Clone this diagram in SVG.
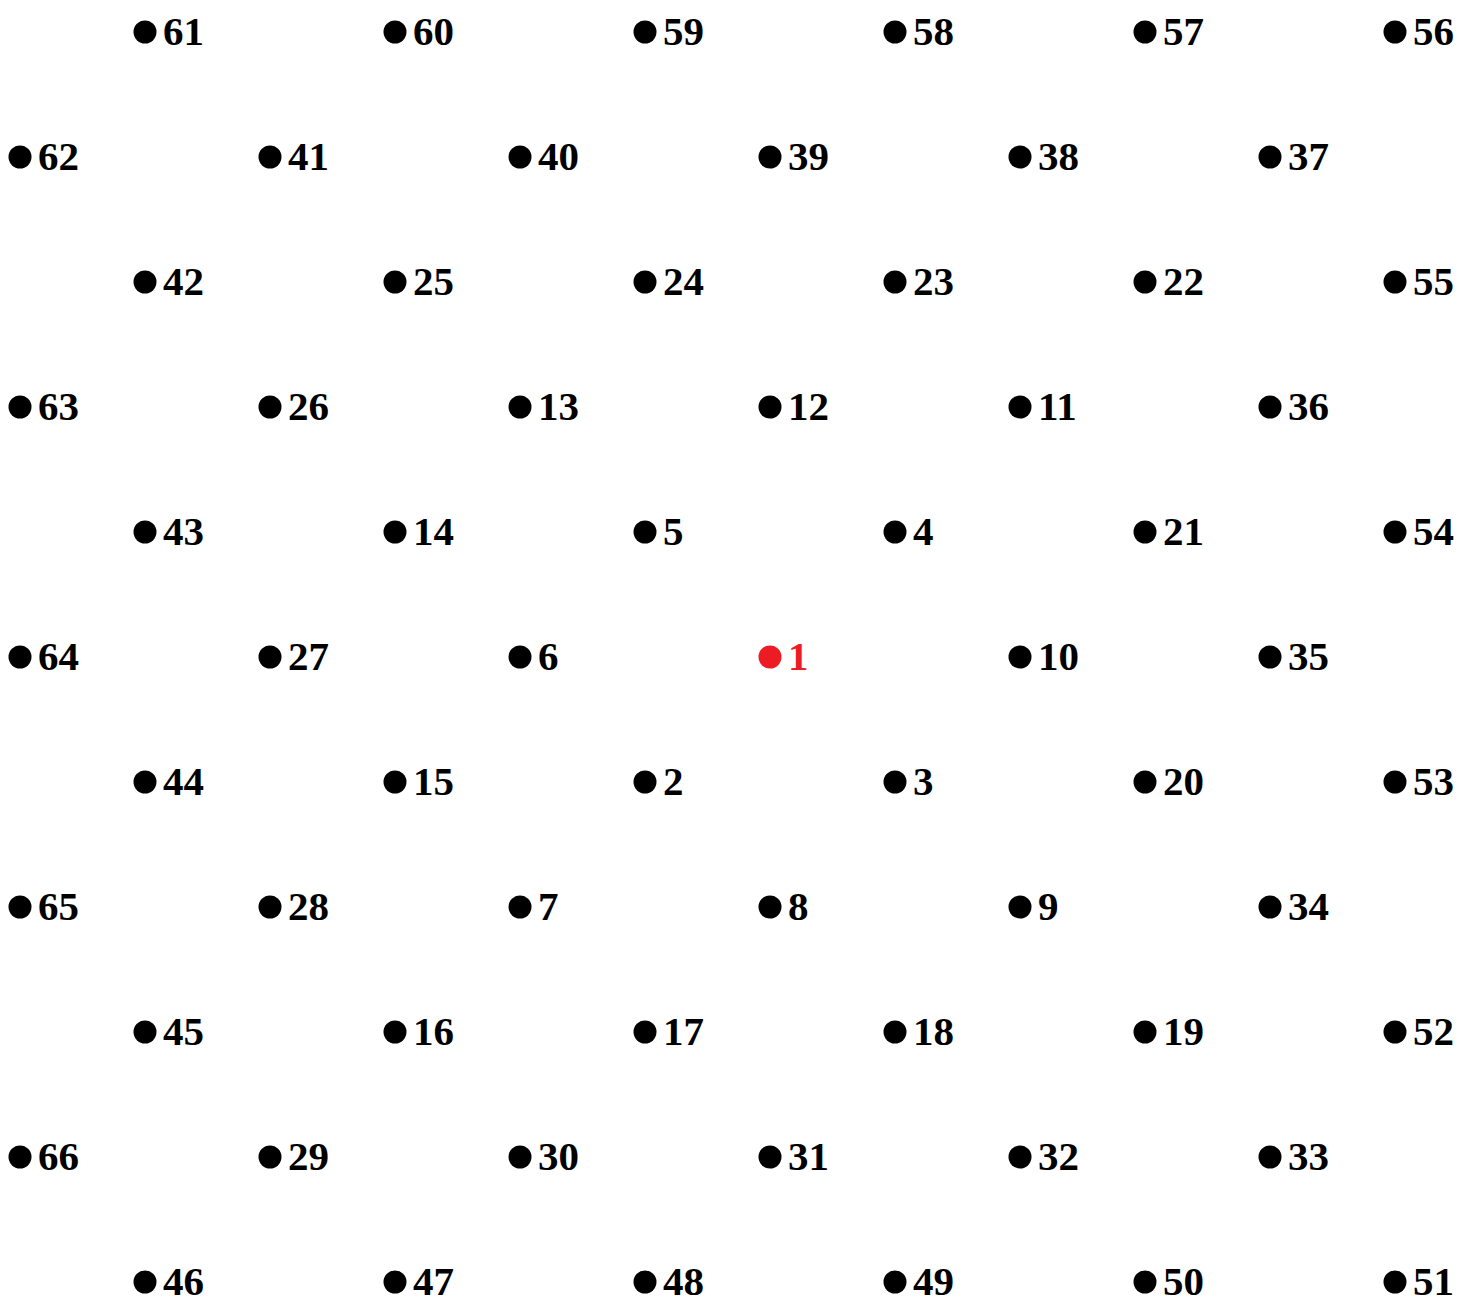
<svg xmlns="http://www.w3.org/2000/svg" width="1477" height="1304" viewBox="0 0 1477 1304">
<style>
.d{fill:#000}
.t{font-family:"Liberation Serif","DejaVu Serif",serif;font-weight:bold;font-size:41px;fill:#000;font-variant-numeric:oldstyle-nums}
.r .d,.r .t{fill:#ed1c24}
</style>
<rect width="1477" height="1304" fill="#fff"/>
<g id="connectors"></g>
<g id="n61"><circle class="d" cx="145" cy="32" r="11.5"/><text class="t" x="163" y="45">61</text></g>
<g id="n60"><circle class="d" cx="395" cy="32" r="11.5"/><text class="t" x="413" y="45">60</text></g>
<g id="n59"><circle class="d" cx="645" cy="32" r="11.5"/><text class="t" x="663" y="45">59</text></g>
<g id="n58"><circle class="d" cx="895" cy="32" r="11.5"/><text class="t" x="913" y="45">58</text></g>
<g id="n57"><circle class="d" cx="1145" cy="32" r="11.5"/><text class="t" x="1163" y="45">57</text></g>
<g id="n56"><circle class="d" cx="1395" cy="32" r="11.5"/><text class="t" x="1413" y="45">56</text></g>
<g id="n62"><circle class="d" cx="20" cy="157" r="11.5"/><text class="t" x="38" y="170">62</text></g>
<g id="n41"><circle class="d" cx="270" cy="157" r="11.5"/><text class="t" x="288" y="170">41</text></g>
<g id="n40"><circle class="d" cx="520" cy="157" r="11.5"/><text class="t" x="538" y="170">40</text></g>
<g id="n39"><circle class="d" cx="770" cy="157" r="11.5"/><text class="t" x="788" y="170">39</text></g>
<g id="n38"><circle class="d" cx="1020" cy="157" r="11.5"/><text class="t" x="1038" y="170">38</text></g>
<g id="n37"><circle class="d" cx="1270" cy="157" r="11.5"/><text class="t" x="1288" y="170">37</text></g>
<g id="n42"><circle class="d" cx="145" cy="282" r="11.5"/><text class="t" x="163" y="295">42</text></g>
<g id="n25"><circle class="d" cx="395" cy="282" r="11.5"/><text class="t" x="413" y="295">25</text></g>
<g id="n24"><circle class="d" cx="645" cy="282" r="11.5"/><text class="t" x="663" y="295">24</text></g>
<g id="n23"><circle class="d" cx="895" cy="282" r="11.5"/><text class="t" x="913" y="295">23</text></g>
<g id="n22"><circle class="d" cx="1145" cy="282" r="11.5"/><text class="t" x="1163" y="295">22</text></g>
<g id="n55"><circle class="d" cx="1395" cy="282" r="11.5"/><text class="t" x="1413" y="295">55</text></g>
<g id="n63"><circle class="d" cx="20" cy="407" r="11.5"/><text class="t" x="38" y="420">63</text></g>
<g id="n26"><circle class="d" cx="270" cy="407" r="11.5"/><text class="t" x="288" y="420">26</text></g>
<g id="n13"><circle class="d" cx="520" cy="407" r="11.5"/><text class="t" x="538" y="420">13</text></g>
<g id="n12"><circle class="d" cx="770" cy="407" r="11.5"/><text class="t" x="788" y="420">12</text></g>
<g id="n11"><circle class="d" cx="1020" cy="407" r="11.5"/><text class="t" x="1038" y="420">11</text></g>
<g id="n36"><circle class="d" cx="1270" cy="407" r="11.5"/><text class="t" x="1288" y="420">36</text></g>
<g id="n43"><circle class="d" cx="145" cy="532" r="11.5"/><text class="t" x="163" y="545">43</text></g>
<g id="n14"><circle class="d" cx="395" cy="532" r="11.5"/><text class="t" x="413" y="545">14</text></g>
<g id="n5"><circle class="d" cx="645" cy="532" r="11.5"/><text class="t" x="663" y="545">5</text></g>
<g id="n4"><circle class="d" cx="895" cy="532" r="11.5"/><text class="t" x="913" y="545">4</text></g>
<g id="n21"><circle class="d" cx="1145" cy="532" r="11.5"/><text class="t" x="1163" y="545">21</text></g>
<g id="n54"><circle class="d" cx="1395" cy="532" r="11.5"/><text class="t" x="1413" y="545">54</text></g>
<g id="n64"><circle class="d" cx="20" cy="657" r="11.5"/><text class="t" x="38" y="670">64</text></g>
<g id="n27"><circle class="d" cx="270" cy="657" r="11.5"/><text class="t" x="288" y="670">27</text></g>
<g id="n6"><circle class="d" cx="520" cy="657" r="11.5"/><text class="t" x="538" y="670">6</text></g>
<g id="n1" class="r"><circle class="d" cx="770" cy="657" r="11.5"/><text class="t" x="788" y="670">1</text></g>
<g id="n10"><circle class="d" cx="1020" cy="657" r="11.5"/><text class="t" x="1038" y="670">10</text></g>
<g id="n35"><circle class="d" cx="1270" cy="657" r="11.5"/><text class="t" x="1288" y="670">35</text></g>
<g id="n44"><circle class="d" cx="145" cy="782" r="11.5"/><text class="t" x="163" y="795">44</text></g>
<g id="n15"><circle class="d" cx="395" cy="782" r="11.5"/><text class="t" x="413" y="795">15</text></g>
<g id="n2"><circle class="d" cx="645" cy="782" r="11.5"/><text class="t" x="663" y="795">2</text></g>
<g id="n3"><circle class="d" cx="895" cy="782" r="11.5"/><text class="t" x="913" y="795">3</text></g>
<g id="n20"><circle class="d" cx="1145" cy="782" r="11.5"/><text class="t" x="1163" y="795">20</text></g>
<g id="n53"><circle class="d" cx="1395" cy="782" r="11.5"/><text class="t" x="1413" y="795">53</text></g>
<g id="n65"><circle class="d" cx="20" cy="907" r="11.5"/><text class="t" x="38" y="920">65</text></g>
<g id="n28"><circle class="d" cx="270" cy="907" r="11.5"/><text class="t" x="288" y="920">28</text></g>
<g id="n7"><circle class="d" cx="520" cy="907" r="11.5"/><text class="t" x="538" y="920">7</text></g>
<g id="n8"><circle class="d" cx="770" cy="907" r="11.5"/><text class="t" x="788" y="920">8</text></g>
<g id="n9"><circle class="d" cx="1020" cy="907" r="11.5"/><text class="t" x="1038" y="920">9</text></g>
<g id="n34"><circle class="d" cx="1270" cy="907" r="11.5"/><text class="t" x="1288" y="920">34</text></g>
<g id="n45"><circle class="d" cx="145" cy="1032" r="11.5"/><text class="t" x="163" y="1045">45</text></g>
<g id="n16"><circle class="d" cx="395" cy="1032" r="11.5"/><text class="t" x="413" y="1045">16</text></g>
<g id="n17"><circle class="d" cx="645" cy="1032" r="11.5"/><text class="t" x="663" y="1045">17</text></g>
<g id="n18"><circle class="d" cx="895" cy="1032" r="11.5"/><text class="t" x="913" y="1045">18</text></g>
<g id="n19"><circle class="d" cx="1145" cy="1032" r="11.5"/><text class="t" x="1163" y="1045">19</text></g>
<g id="n52"><circle class="d" cx="1395" cy="1032" r="11.5"/><text class="t" x="1413" y="1045">52</text></g>
<g id="n66"><circle class="d" cx="20" cy="1157" r="11.5"/><text class="t" x="38" y="1170">66</text></g>
<g id="n29"><circle class="d" cx="270" cy="1157" r="11.5"/><text class="t" x="288" y="1170">29</text></g>
<g id="n30"><circle class="d" cx="520" cy="1157" r="11.5"/><text class="t" x="538" y="1170">30</text></g>
<g id="n31"><circle class="d" cx="770" cy="1157" r="11.5"/><text class="t" x="788" y="1170">31</text></g>
<g id="n32"><circle class="d" cx="1020" cy="1157" r="11.5"/><text class="t" x="1038" y="1170">32</text></g>
<g id="n33"><circle class="d" cx="1270" cy="1157" r="11.5"/><text class="t" x="1288" y="1170">33</text></g>
<g id="n46"><circle class="d" cx="145" cy="1282" r="11.5"/><text class="t" x="163" y="1295">46</text></g>
<g id="n47"><circle class="d" cx="395" cy="1282" r="11.5"/><text class="t" x="413" y="1295">47</text></g>
<g id="n48"><circle class="d" cx="645" cy="1282" r="11.5"/><text class="t" x="663" y="1295">48</text></g>
<g id="n49"><circle class="d" cx="895" cy="1282" r="11.5"/><text class="t" x="913" y="1295">49</text></g>
<g id="n50"><circle class="d" cx="1145" cy="1282" r="11.5"/><text class="t" x="1163" y="1295">50</text></g>
<g id="n51"><circle class="d" cx="1395" cy="1282" r="11.5"/><text class="t" x="1413" y="1295">51</text></g>
</svg>
